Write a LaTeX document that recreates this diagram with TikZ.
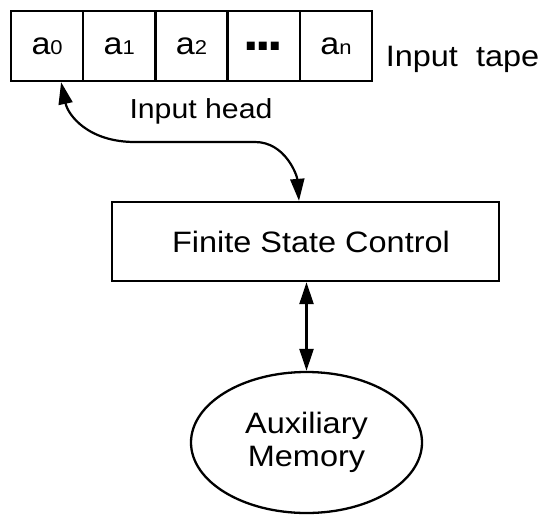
\documentclass[tikz,border=0pt]{standalone}
\usepackage{fontspec}
\setmainfont{Liberation Sans}[FakeStretch=1.1]
\newfontfamily\dotsfont{Liberation Sans}
\usetikzlibrary{shapes.geometric,arrows.meta}
\newcommand{\sz}[1]{\fontsize{#1}{#1}\selectfont}
\newcommand{\cellsym}[1]{\sz{31}a{\sz{20}#1}}
\tikzset{
  cellbox/.style={draw,line width=2.3pt,minimum width=72.2pt,minimum height=70pt,inner sep=0pt,anchor=center},
  lbl/.style={inner sep=0pt,anchor=base},
  ctrl/.style={draw,line width=2.3pt,minimum width=387pt,minimum height=79pt,inner sep=0pt},
  mem/.style={draw,ellipse,line width=2.3pt,minimum width=231pt,minimum height=141pt,inner sep=0pt,align=center},
  conn/.style={line width=2.2pt,{Triangle[length=22pt,width=14pt]}-{Triangle[length=22pt,width=14pt]}}
}
\begin{document}
\begin{tikzpicture}[x=1pt,y=-1pt]
\useasboundingbox (0,0) rectangle (540,514);
\node[cellbox] (c0) at (47.1,46) {\cellsym{0}};
\node[cellbox] (c1) at (119.3,46) {\cellsym{1}};
\node[cellbox] (c2) at (191.5,46) {\cellsym{2}};
\node[cellbox] (c3) at (263.7,46) {\dotsfont\bfseries\sz{56}.\kern-3.6pt.\kern-3.6pt.};
\node[cellbox] (c4) at (335.9,46) {\cellsym{n}};
\node[lbl] (tape) at (462.5,66) {\sz{29.5}Input\ \ tape};
\node[lbl] (head) at (201,118) {\sz{27.5}Input head};
\node[ctrl] (fsc) at (305.5,241.5) {\sz{29.5}\hspace*{11pt}Finite State Control};
\node[mem] (mem) at (306.5,442.5) {\sz{29.5}Auxiliary\\[6pt]\sz{29.5}Memory};
\draw[conn] ([xshift=14pt]c0.south) .. controls (68,115) and (88,142) .. (135,142) -- (255,142) .. controls (285,142) and (297,175) .. ([xshift=-6.5pt]fsc.north);
\draw[conn] (fsc.south -| mem.north) -- (mem.north);
\end{tikzpicture}
\end{document}
